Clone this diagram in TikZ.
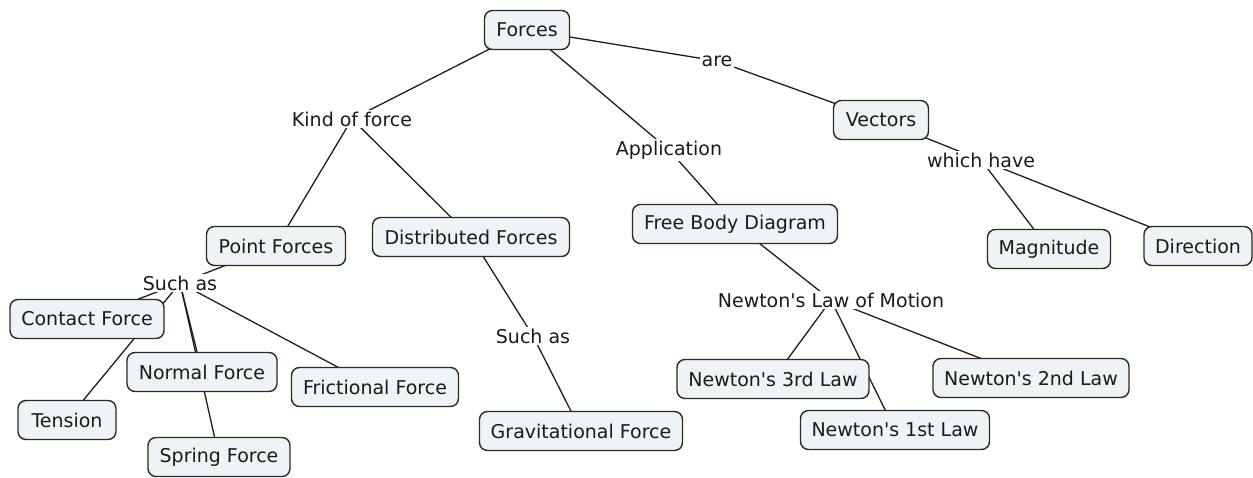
\documentclass[tikz,border=0pt]{standalone}
\usepackage{fontspec}
\newfontfamily\mapfont{DejaVu Sans}
\usetikzlibrary{backgrounds}
\definecolor{boxfill}{HTML}{EEF3F6}
\definecolor{boxline}{HTML}{2A2A2A}
\definecolor{linkcol}{HTML}{1E1E1E}
\definecolor{txtcol}{HTML}{1A1A1A}
\begin{document}
\begin{tikzpicture}[x=1pt,y=-1pt,
  concept/.style={draw=boxline, line width=1.4pt, fill=boxfill, rounded corners=8pt,
    minimum height=39pt, inner xsep=8pt, text=txtcol,
    font=\mapfont\fontsize{19}{22}\selectfont},
  linkword/.style={fill=white, inner sep=2pt, text=txtcol,
    font=\mapfont\fontsize{19}{22}\selectfont},
  link/.style={draw=linkcol, line width=1.3pt}]
\useasboundingbox (0,0) rectangle (1253,478);
% concepts
\node[concept, minimum width=85pt]  (forces)  at (527,30)  {Forces};
\node[concept, minimum width=95pt]  (vectors) at (881,120) {Vectors};
\node[concept, minimum width=139pt] (point)   at (276,246) {Point Forces};
\node[concept, minimum width=197pt] (distr)   at (471,237) {Distributed Forces};
\node[concept, minimum width=205pt] (fbd)     at (735,224) {Free Body Diagram};
\node[concept, minimum width=123pt] (magn)    at (1049,249) {Magnitude};
\node[concept, minimum width=108pt] (dir)     at (1198,246) {Direction};
\node[concept, minimum width=154pt] (contact) at (87,319)  {Contact Force};
\node[concept, minimum width=150pt] (normal)  at (202,372) {Normal Force};
\node[concept, minimum width=167pt] (frict)   at (375,387) {Frictional Force};
\node[concept, minimum width=98pt]  (tension) at (67,420)  {Tension};
\node[concept, minimum width=142pt] (spring)  at (219,457) {Spring Force};
\node[concept, minimum width=203pt] (grav)    at (581,431) {Gravitational Force};
\node[concept, minimum width=192pt] (third)   at (773,379) {Newton's 3rd Law};
\node[concept, minimum width=189pt] (first)   at (895,430) {Newton's 1st Law};
\node[concept, minimum width=196pt] (second)  at (1031,378) {Newton's 2nd Law};
% linking words
\node[linkword] (kind)  at (352,119) {Kind of force};
\node[linkword] (appl)  at (669,150) {Application};
\node[linkword] (are)   at (717,61)  {are};
\node[linkword] (which) at (981,160) {which have};
\node[linkword] (such1) at (180,283) {Such as};
\node[linkword] (such2) at (533,336) {Such as};
\node[linkword] (nlm)   at (831,300) {Newton's Law of Motion};
% connectors
\begin{pgfonlayer}{background}
\draw[link] (forces.center) -- (kind.center);
\draw[link] (kind.center) -- (point.center);
\draw[link] (kind.center) -- (distr.center);
\draw[link] (forces.center) -- (appl.center);
\draw[link] (appl.center) -- (fbd.center);
\draw[link] (forces.center) -- (are.center);
\draw[link] (are.center) -- (vectors.center);
\draw[link] (vectors.center) -- (which.center);
\draw[link] (which.center) -- (magn.center);
\draw[link] (which.center) -- (dir.center);
\draw[link] (point.center) -- (such1.center);
\draw[link] (such1.center) -- (contact.center);
\draw[link] (such1.center) -- (tension.center);
\draw[link] (such1.center) -- (normal.center);
\draw[link] (such1.center) -- (spring.center);
\draw[link] (such1.center) -- (frict.center);
\draw[link] (distr.center) -- (such2.center);
\draw[link] (such2.center) -- (grav.center);
\draw[link] (fbd.center) -- (nlm.center);
\draw[link] (nlm.center) -- (third.center);
\draw[link] (nlm.center) -- (first.center);
\draw[link] (nlm.center) -- (second.center);
\end{pgfonlayer}
\end{tikzpicture}
\end{document}
